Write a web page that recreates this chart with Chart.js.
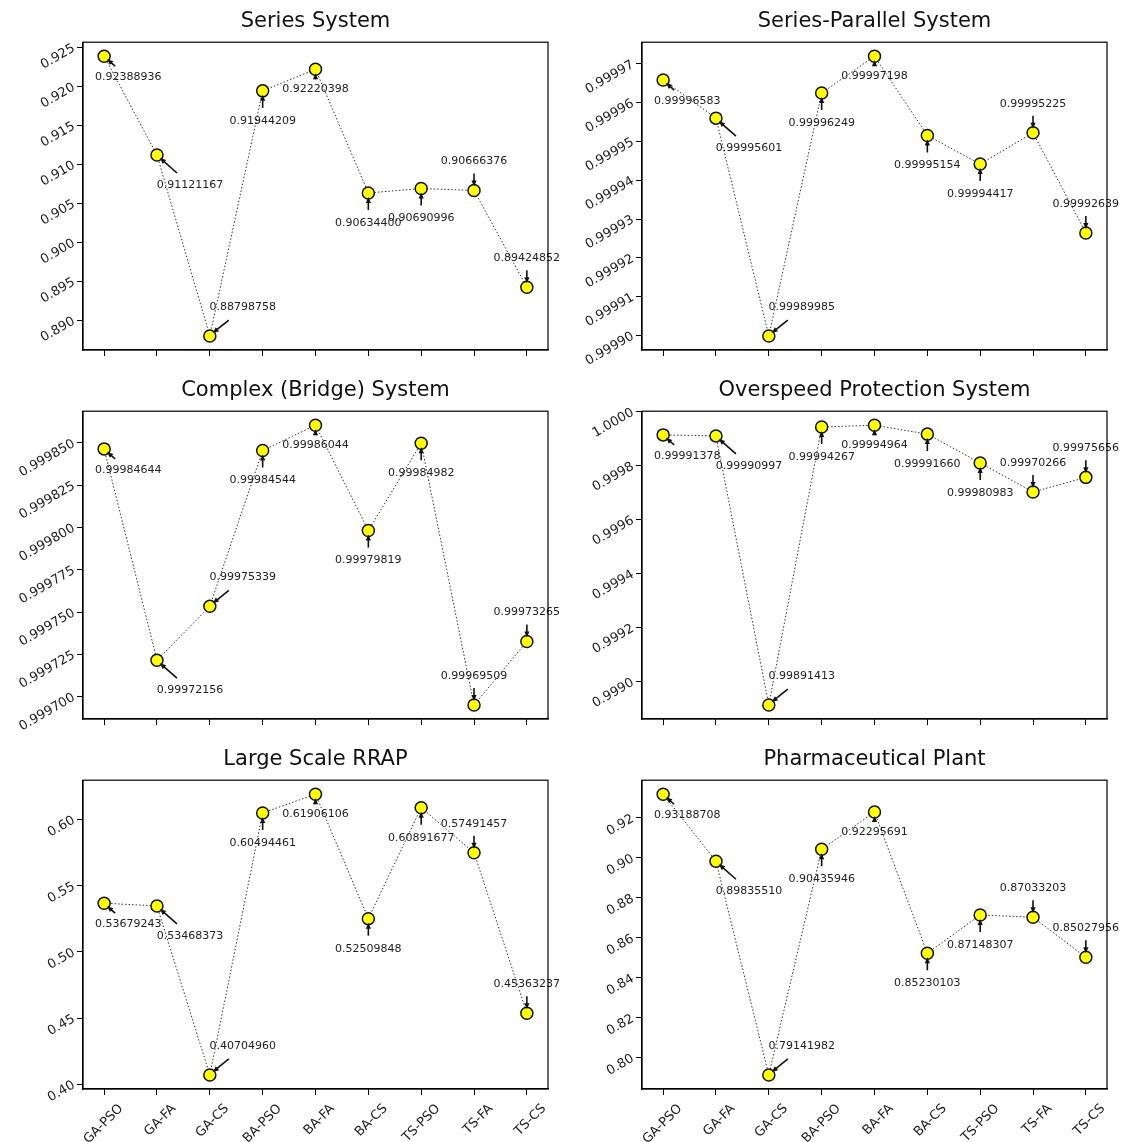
<!DOCTYPE html>
<html>
<head>
<meta charset="utf-8">
<script src="https://cdn.jsdelivr.net/npm/chart.js@4.4.0/dist/chart.umd.min.js"></script>
<style>
  body { margin: 0; background: #fff; }
  #wrap { position: relative; width: 1121px; height: 1142px; overflow: hidden; }
  canvas { position: absolute; }
</style>
</head>
<body>
<div id="wrap">
  <canvas id="p0" width="560" height="369" style="left:0;top:0"></canvas>
  <canvas id="p1" width="561" height="369" style="left:560px;top:0"></canvas>
  <canvas id="p2" width="560" height="369" style="left:0;top:369px"></canvas>
  <canvas id="p3" width="561" height="369" style="left:560px;top:369px"></canvas>
  <canvas id="p4" width="560" height="404" style="left:0;top:738px"></canvas>
  <canvas id="p5" width="561" height="404" style="left:560px;top:738px"></canvas>
</div>
<script>
// hybrid method pairs on the x axis
const methods = ['GA-PSO', 'GA-FA', 'GA-CS', 'BA-PSO', 'BA-FA', 'BA-CS', 'TS-PSO', 'TS-FA', 'TS-CS'];

const titles = ['Series System', 'Series-Parallel System', 'Complex (Bridge) System',
    'Overspeed Protection System', 'Large Scale RRAP', 'Pharmaceutical Plant'];

// best reliability found by each method
const seriesSys     = [0.92388936, 0.91121167, 0.88798758, 0.91944209, 0.92220398, 0.90634400, 0.90690996, 0.90666376, 0.89424852];
const seriesParSys  = [0.99996583, 0.99995601, 0.99989985, 0.99996249, 0.99997198, 0.99995154, 0.99994417, 0.99995225, 0.99992639];
const bridgeSys     = [0.99984644, 0.99972156, 0.99975339, 0.99984544, 0.99986044, 0.99979819, 0.99984982, 0.99969509, 0.99973265];
const overspeedSys  = [0.99991378, 0.99990997, 0.99891413, 0.99994267, 0.99994964, 0.99991660, 0.99980983, 0.99970266, 0.99975656];
const largeRrap     = [0.53679243, 0.53468373, 0.40704960, 0.60494461, 0.61906106, 0.52509848, 0.60891677, 0.57491457, 0.45363237];
const pharmaPlant   = [0.93188708, 0.89835510, 0.79141982, 0.90435946, 0.92295691, 0.85230103, 0.87148307, 0.87033203, 0.85027956];

// y tick labels per panel
const seriesTicks    = ['0.890', '0.895', '0.900', '0.905', '0.910', '0.915', '0.920', '0.925'];
const seriesParTicks = ['0.99990', '0.99991', '0.99992', '0.99993', '0.99994', '0.99995', '0.99996', '0.99997'];
const bridgeTicks    = ['0.999700', '0.999725', '0.999750', '0.999775', '0.999800', '0.999825', '0.999850'];
const overspeedTicks = ['0.9990', '0.9992', '0.9994', '0.9996', '0.9998', '1.0000'];
const rrapTicks      = ['0.40', '0.45', '0.50', '0.55', '0.60'];
const pharmaTicks    = ['0.80', '0.82', '0.84', '0.86', '0.88', '0.90', '0.92'];

const allValues = [seriesSys, seriesParSys, bridgeSys, overspeedSys, largeRrap, pharmaPlant];
const allTicks = [seriesTicks, seriesParTicks, bridgeTicks, overspeedTicks, rrapTicks, pharmaTicks];

const FONT = 'DejaVu Sans';

// where each value label sits relative to its point (text centre, arrow tail, arrow head)
const notePlace = [
    { t: [24, 21], a: [11, 10], h: [3, 3] },
    { t: [33, 30], a: [20, 18], h: [3, 3] },
    { t: [33, -29], a: [19, -16], h: [3, -3] },
    { t: [0, 30], a: [0, 17], h: [0, 4] },
    { t: [0, 20], a: [0, 10], h: [0, 4] },
    { t: [0, 30], a: [0, 17], h: [0, 4] },
    { t: [0, 30], a: [0, 17], h: [0, 4] },
    { t: [0, -29], a: [0, -17], h: [0, -4] },
    { t: [0, -29], a: [0, -17], h: [0, -4] }
];

const valueNotes = {
    id: 'valueNotes',
    afterDatasetsDraw(chart) {
        const ctx = chart.ctx;
        const meta = chart.getDatasetMeta(0);
        const vals = chart.data.datasets[0].data;
        ctx.save();
        ctx.font = '11px "' + FONT + '"';
        ctx.textAlign = 'center';
        ctx.textBaseline = 'middle';
        meta.data.forEach((pt, i) => {
            const p = notePlace[i];
            const x0 = pt.x + p.a[0], y0 = pt.y + p.a[1];
            const x1 = pt.x + p.h[0], y1 = pt.y + p.h[1];
            const ang = Math.atan2(y1 - y0, x1 - x0);
            ctx.strokeStyle = '#111';
            ctx.fillStyle = '#111';
            ctx.lineWidth = 1.6;
            ctx.beginPath();
            ctx.moveTo(x0, y0);
            ctx.lineTo(x1 - 4 * Math.cos(ang), y1 - 4 * Math.sin(ang));
            ctx.stroke();
            ctx.beginPath();
            ctx.moveTo(x1, y1);
            ctx.lineTo(x1 - 6 * Math.cos(ang) + 2.6 * Math.sin(ang), y1 - 6 * Math.sin(ang) - 2.6 * Math.cos(ang));
            ctx.lineTo(x1 - 6 * Math.cos(ang) - 2.6 * Math.sin(ang), y1 - 6 * Math.sin(ang) + 2.6 * Math.cos(ang));
            ctx.closePath();
            ctx.fill();
            ctx.fillStyle = '#222';
            ctx.fillText(vals[i].y.toFixed(8), pt.x + p.t[0], pt.y + p.t[1]);
        });
        ctx.restore();
    }
};

const frameBox = {
    id: 'frameBox',
    afterDraw(chart) {
        const a = chart.chartArea;
        const ctx = chart.ctx;
        ctx.save();
        ctx.strokeStyle = '#000';
        ctx.lineWidth = 1.2;
        ctx.strokeRect(a.left, a.top, a.right - a.left, a.bottom - a.top);
        ctx.restore();
    }
};

const makePanel = (k) => {
    const col = k % 2;
    const row = Math.floor(k / 2);
    const canvas = document.getElementById('p' + k);
    const values = allValues[k];
    const tickLabels = allTicks[k];
    const lo = Math.min(...values), hi = Math.max(...values);
    const pad = (hi - lo) * 0.05;
    const bottomRow = row === 2;

    new Chart(canvas.getContext('2d'), {
        type: 'line',
        data: {
            datasets: [{
                data: values.map((v, i) => ({ x: i, y: v })),
                borderColor: '#333',
                borderWidth: 1,
                borderDash: [1.5, 2],
                pointRadius: 6,
                pointBackgroundColor: '#ffff00',
                pointBorderColor: '#111',
                pointBorderWidth: 1.5,
                tension: 0,
                fill: false
            }]
        },
        options: {
            responsive: false,
            animation: false,
            layout: {
                autoPadding: false,
                padding: { top: 0, left: 0, bottom: 0, right: col === 0 ? 12 : 14 }
            },
            plugins: {
                legend: { display: false },
                tooltip: { enabled: false },
                title: {
                    display: true,
                    text: titles[k],
                    fullSize: false,
                    color: '#111',
                    font: { family: FONT, size: 21, weight: 'normal' },
                    padding: { top: 9, bottom: 8 }
                }
            },
            scales: {
                x: {
                    type: 'linear',
                    bounds: 'data',
                    min: -0.4,
                    max: methods.length - 1 + 0.4,
                    afterBuildTicks: (scale) => {
                        scale.ticks = methods.map((m, i) => ({ value: i }));
                    },
                    afterFit: (scale) => {
                        scale.height = (bottomRow ? 404 : 369) - (bottomRow ? 351 : 350);
                    },
                    border: { display: true, color: '#000', width: 1.2 },
                    grid: { drawOnChartArea: false, drawTicks: true, tickLength: 6, color: '#000' },
                    ticks: {
                        display: bottomRow,
                        minRotation: 45,
                        maxRotation: 45,
                        labelOffset: 17,
                        padding: 6,
                        color: '#222',
                        font: { family: FONT, size: 13 },
                        callback: (v) => methods[v]
                    }
                },
                y: {
                    type: 'linear',
                    bounds: 'data',
                    min: lo - pad,
                    max: hi + pad,
                    afterBuildTicks: (scale) => {
                        scale.ticks = tickLabels.map((s) => ({ value: Number(s) }));
                    },
                    afterFit: (scale) => {
                        scale.width = col === 0 ? 83 : 82;
                    },
                    border: { display: true, color: '#000', width: 1.2 },
                    grid: { drawOnChartArea: false, drawTicks: true, tickLength: 6, color: '#000' },
                    ticks: {
                        minRotation: 30,
                        maxRotation: 30,
                        padding: 3,
                        color: '#222',
                        font: { family: FONT, size: 13 },
                        callback: (v, i) => tickLabels[i]
                    }
                }
            }
        },
        plugins: [valueNotes, frameBox]
    });
};

for (let k = 0; k < 6; k++) makePanel(k);
</script>
</body>
</html>
